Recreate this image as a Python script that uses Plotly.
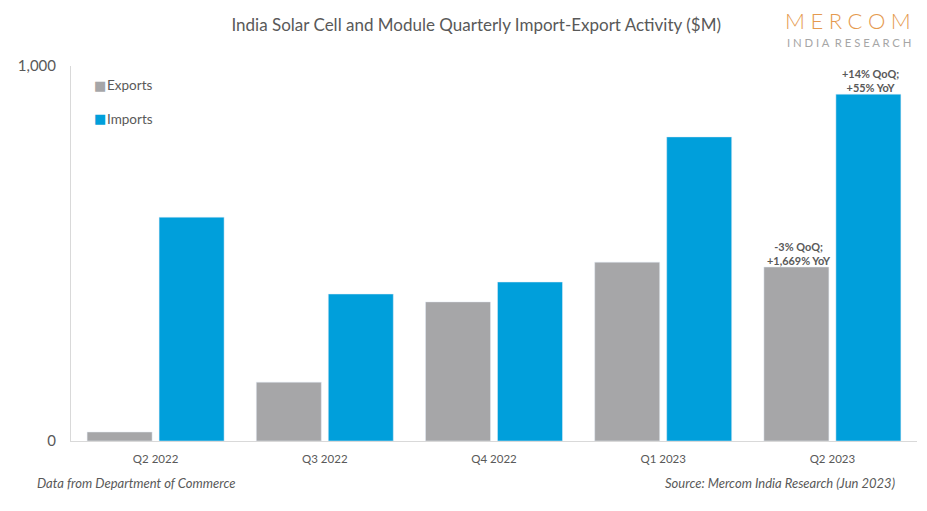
import plotly.graph_objects as go

# values ($M)
quarters = ["Q2 2022", "Q3 2022", "Q4 2022", "Q1 2023", "Q2 2023"]
exports = [24, 157, 371, 477, 464]
imports = [597, 392, 424, 811, 925]
export_label = "-3% QoQ;<br>+1,669% YoY"
import_label = "+14% QoQ;<br>+55% YoY"
y_ticks = [0, 1000]
y_tick_labels = ["0", "1,000"]

GREY = "#a6a6a8"
BLUE = "#009fdb"
TEXT = "#595959"
FONT = "Lato"

fig = go.Figure()

fig.add_trace(go.Bar(name="Exports", x=quarters, y=exports, marker=dict(color=GREY)))
fig.add_trace(go.Bar(name="Imports", x=quarters, y=imports, marker=dict(color=BLUE)))

fig.update_layout(
    width=927,
    height=511,
    margin=dict(l=71, r=10, t=66, b=70, autoexpand=False),
    paper_bgcolor="white",
    plot_bgcolor="white",
    barmode="group",
    bargap=0.149,
    bargroupgap=0.097,
    showlegend=False,
    font=dict(family=FONT, color=TEXT),
    title=dict(
        text="India Solar Cell and Module Quarterly Import-Export Activity ($M)",
        font=dict(family=FONT, size=17, color=TEXT),
        x=0.479,
        xanchor="center",
        xref="paper",
        y=0.951,
        yanchor="middle",
    ),
    xaxis=dict(
        showline=True,
        linecolor="#d9d9d9",
        linewidth=1,
        ticks="",
        showgrid=False,
        ticklabelstandoff=7,
        tickfont=dict(family=FONT, size=11.5, color=TEXT),
    ),
    yaxis=dict(
        range=[0, 1000],
        tickvals=y_ticks,
        ticktext=y_tick_labels,
        showline=True,
        linecolor="#d9d9d9",
        linewidth=1,
        ticks="",
        showgrid=False,
        zeroline=False,
        ticklabelstandoff=11,
        tickfont=dict(family=FONT, size=15, color=TEXT),
    ),
)

# growth labels over the latest quarter, offset from the category centre to their bar
fig.add_annotation(
    text=export_label,
    x=quarters[-1], y=exports[-1], xshift=-33, yshift=-2,
    xanchor="center", yanchor="bottom", showarrow=False,
    font=dict(family=FONT, size=10.9, color=TEXT, weight="bold"),
)
fig.add_annotation(
    text=import_label,
    x=quarters[-1], y=imports[-1], xshift=38, yshift=-2,
    xanchor="center", yanchor="bottom", showarrow=False,
    font=dict(family=FONT, size=10.9, color=TEXT, weight="bold"),
)

# the legend swatches sit right against their text, closer than a plotly legend allows
for name, color, ypos in [("Exports", GREY, 0.949), ("Imports", BLUE, 0.859)]:
    fig.add_annotation(
        text="\u25a0",
        xref="paper", yref="paper", x=0.0343, y=ypos,
        xanchor="center", yanchor="middle", showarrow=False,
        font=dict(family="DejaVu Sans", size=13, color=color),
    )
    fig.add_annotation(
        text=name,
        xref="paper", yref="paper", x=0.0405, y=ypos,
        xanchor="left", yanchor="middle", showarrow=False,
        font=dict(family=FONT, size=13.5, color=TEXT),
    )

# footers
fig.add_annotation(
    text="<i>Data from Department of Commerce</i>",
    xref="paper", yref="paper", x=-0.0425, y=-0.113,
    xanchor="left", yanchor="middle", showarrow=False,
    font=dict(family=FONT, size=13, color=TEXT),
)
fig.add_annotation(
    text="<i>Source: Mercom India Research (Jun 2023)</i>",
    xref="paper", yref="paper", x=0.9765, y=-0.113,
    xanchor="right", yanchor="middle", showarrow=False,
    font=dict(family=FONT, size=13, color=TEXT),
)

# logo, spelled out as text
fig.add_annotation(
    text="\u2009\u2009".join("MERCOM"),
    xref="paper", yref="paper", x=0.995, y=1.12,
    xanchor="right", yanchor="middle", showarrow=False,
    font=dict(family=FONT, size=22, color="#e59a4f", weight=300),
)
fig.add_annotation(
    text="I N D I A  R E S E A R C H",
    xref="paper", yref="paper", x=0.995, y=1.0635,
    xanchor="right", yanchor="middle", showarrow=False,
    font=dict(family=FONT, size=11.3, color="#a6a6a6"),
)

fig.write_html(
    "out.html",
    config={"displayModeBar": False},
    post_script="document.body.style.margin='0';",
)
